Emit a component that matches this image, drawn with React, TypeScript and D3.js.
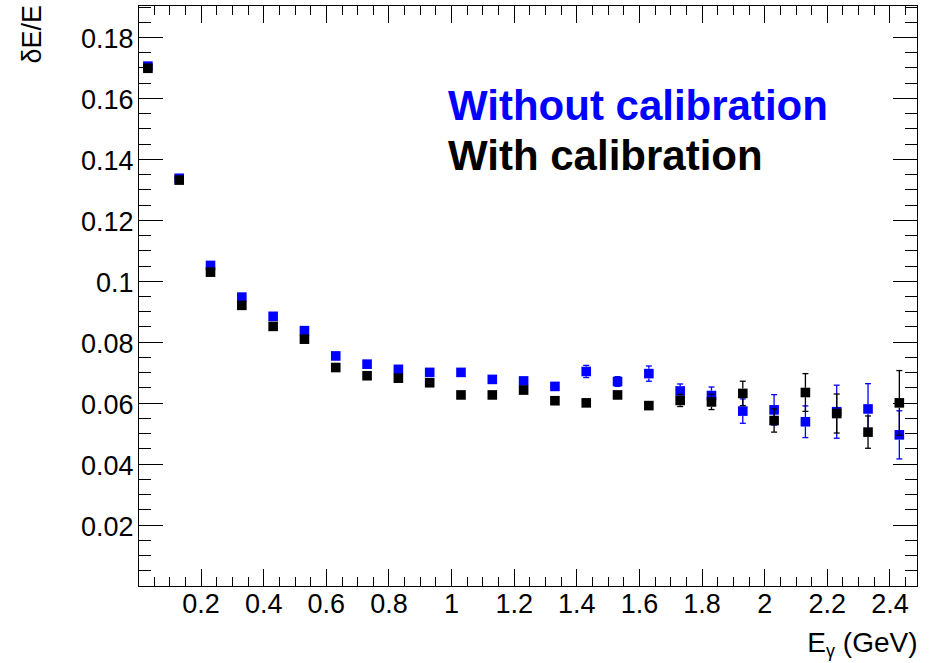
import React from "react";
import * as d3 from "d3";

const energies = [0.03, 0.13, 0.23, 0.33, 0.43, 0.53, 0.63, 0.73, 0.83, 0.93, 1.03, 1.13, 1.23, 1.33, 1.43, 1.53, 1.63, 1.73, 1.83, 1.93, 2.03, 2.13, 2.23, 2.33, 2.43];

const withoutCal = [0.1706, 0.1338, 0.1052, 0.0948, 0.0885, 0.0838, 0.0755, 0.0728, 0.0711, 0.0701, 0.0701, 0.0678, 0.0673, 0.0655, 0.0704, 0.0671, 0.0697, 0.0640, 0.0625, 0.0574, 0.0578, 0.0539, 0.0572, 0.0581, 0.0496];
const withoutCalErr = [0.0008, 0.0008, 0.0008, 0.0008, 0.0008, 0.0008, 0.0008, 0.0008, 0.0008, 0.0008, 0.0009, 0.0009, 0.001, 0.0012, 0.002, 0.0016, 0.0025, 0.0023, 0.0028, 0.004, 0.005, 0.0052, 0.0087, 0.0083, 0.0079];

const withCal = [0.1699, 0.1332, 0.1030, 0.0921, 0.0852, 0.0810, 0.0717, 0.0690, 0.0682, 0.0667, 0.0627, 0.0627, 0.0643, 0.0608, 0.0601, 0.0627, 0.0592, 0.0609, 0.0604, 0.0632, 0.0543, 0.0635, 0.0566, 0.0505, 0.0601];
const withCalErr = [0.0008, 0.0008, 0.0008, 0.0008, 0.0008, 0.0008, 0.0008, 0.0008, 0.0008, 0.0008, 0.0008, 0.0008, 0.0009, 0.0009, 0.001, 0.001, 0.0012, 0.002, 0.0025, 0.004, 0.0038, 0.0062, 0.0064, 0.0053, 0.0106];

const xTickValues = [0.2, 0.4, 0.6, 0.8, 1.0, 1.2, 1.4, 1.6, 1.8, 2.0, 2.2, 2.4];
const xTickLabels = ["0.2", "0.4", "0.6", "0.8", "1", "1.2", "1.4", "1.6", "1.8", "2", "2.2", "2.4"];
const yTickValues = [0.02, 0.04, 0.06, 0.08, 0.1, 0.12, 0.14, 0.16, 0.18];
const yTickLabels = ["0.02", "0.04", "0.06", "0.08", "0.1", "0.12", "0.14", "0.16", "0.18"];

const legendLabels = ["Without calibration", "With calibration"];
const seriesColors = ["#0000ff", "#000000"];

const W = 930;
const H = 663;
const L = 138.5;
const R = 917.5;
const T = 5.5;
const B = 586;

const FONT = "'Liberation Sans', Arial, Helvetica, sans-serif";

export default function App() {
  const x = d3.scaleLinear().domain([0, 2.488]).range([L, R]);
  const y = d3.scaleLinear().domain([0, 0.1905]).range([B, T]);

  const xMinor = d3.range(0.05, 2.47, 0.05);
  const yMinor = d3.range(0.005, 0.1901, 0.005);

  const ms = 9.6;

  const series = [
    { vals: withoutCal, errs: withoutCalErr, color: seriesColors[0] },
    { vals: withCal, errs: withCalErr, color: seriesColors[1] },
  ];

  return (
    <svg width={W} height={H} style={{ position: "absolute", left: 0, top: 0, background: "#fff" }} fontFamily={FONT}>
      <rect x={0} y={0} width={W} height={H} fill="#fff" />
      {/* ticks */}
      <g stroke="#000" strokeWidth={1} shapeRendering="crispEdges">
        {xMinor.map((v, i) => {
          const isMajor = Math.abs(Math.round(v * 5) - v * 5) < 1e-6;
          const len = isMajor ? 17 : 9;
          return (
            <g key={"xm" + i}>
              <line x1={x(v)} x2={x(v)} y1={B} y2={B - len} />
              <line x1={x(v)} x2={x(v)} y1={T} y2={T + len} />
            </g>
          );
        })}
        {yMinor.map((v, i) => {
          const isMajor = Math.abs(Math.round(v * 50) - v * 50) < 1e-6;
          const len = isMajor ? 24 : 12;
          return (
            <g key={"ym" + i}>
              <line x1={L} x2={L + len} y1={y(v)} y2={y(v)} />
              <line x1={R} x2={R - len - 1} y1={y(v)} y2={y(v)} />
            </g>
          );
        })}
        <rect x={L} y={T} width={R - L} height={B - T} fill="none" />
      </g>
      {/* tick labels */}
      <g fontSize={27} fill="#000">
        {xTickValues.map((v, i) => (
          <text key={"xl" + i} x={x(v)} y={B + 27} textAnchor="middle">
            {xTickLabels[i]}
          </text>
        ))}
        {yTickValues.map((v, i) => (
          <text key={"yl" + i} x={L - 5} y={y(v) + 11} textAnchor="end">
            {yTickLabels[i]}
          </text>
        ))}
      </g>
      {/* axis titles */}
      <text fontSize={27} transform={`translate(41,5) rotate(-90)`} textAnchor="end">
        δE/E
      </text>
      <text fontSize={28} x={R} y={652} textAnchor="end">
        E<tspan fontSize={18} dy={5}>γ</tspan>
        <tspan dy={-5}> (GeV)</tspan>
      </text>
      {/* data */}
      {series.map((s, si) => (
        <g key={"s" + si}>
          {s.vals.map((v, i) => {
            const cx = x(energies[i]);
            const cy = y(v);
            const top = y(v + s.errs[i]);
            const bot = y(v - s.errs[i]);
            const half = ms / 2;
            return (
              <g key={i}>
                {cy - top > half && (
                  <g stroke={s.color} strokeWidth={1.3}>
                    <line x1={cx} x2={cx} y1={top} y2={cy - half} />
                    <line x1={cx - 3} x2={cx + 3} y1={top} y2={top} />
                    <line x1={cx} x2={cx} y1={cy + half} y2={bot} />
                    <line x1={cx - 3} x2={cx + 3} y1={bot} y2={bot} />
                  </g>
                )}
                <rect x={cx - half} y={cy - half} width={ms} height={ms} fill={s.color} />
              </g>
            );
          })}
        </g>
      ))}
      {/* legend text */}
      <g fontWeight="bold" fontSize={42}>
        <text x={448} y={120} fill={seriesColors[0]}>{legendLabels[0]}</text>
        <text x={448} y={170} fill={seriesColors[1]}>{legendLabels[1]}</text>
      </g>
    </svg>
  );
}
